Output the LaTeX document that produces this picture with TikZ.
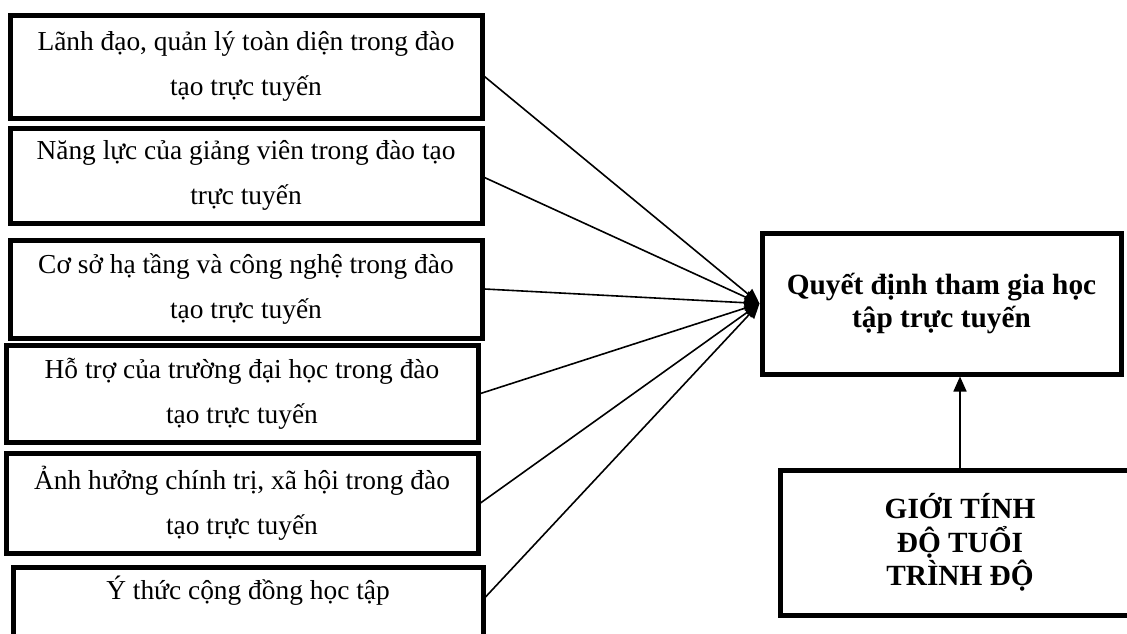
\documentclass[tikz,border=0pt]{standalone}
\usepackage{fontspec}
\setmainfont{Liberation Serif}
\usetikzlibrary{arrows.meta}
\begin{document}
\begin{tikzpicture}[x=1pt,y=-1pt,
  lbox/.style={draw,line width=5pt,minimum width=472pt,align=center,inner sep=0pt,
    font=\fontsize{27.4}{45}\selectfont},
  rbox/.style={draw,line width=5pt,align=center,inner sep=0pt,
    font=\fontsize{29.3}{33.5}\selectfont\bfseries},
  conn/.style={line width=1.6pt,-{Triangle[length=15pt,width=13pt]}}]
\useasboundingbox (0,0) rectangle (1127,633);
\clip (0,0) rectangle (1127,633);
\node[lbox,minimum height=103pt] (b1) at (246,66.5) {Lãnh đạo, quản lý toàn diện trong đào\\tạo trực tuyến};
\node[lbox,minimum height=95pt] (b2) at (246,175.5) {Năng lực của giảng viên trong đào tạo\\trực tuyến};
\node[lbox,minimum height=98pt] (b3) at (246,289) {Cơ sở hạ tầng và công nghệ trong đào\\tạo trực tuyến};
\node[lbox,minimum height=97pt] (b4) at (242,393.5) {Hỗ trợ của trường đại học trong đào\\tạo trực tuyến};
\node[lbox,minimum height=100pt] (b5) at (242,503) {Ảnh hưởng chính trị, xã hội trong đào\\tạo trực tuyến};
\node[lbox,minimum width=470pt,minimum height=100pt] (b6) at (248,617) {Ý thức cộng đồng học tập\\\strut};
\node[rbox,minimum width=359pt,minimum height=141pt] (q) at (941.5,303.5) {Quyết định tham gia học\\tập trực tuyến};
\node[rbox,minimum width=360pt,minimum height=145pt] (g) at (960,542.5) {GIỚI TÍNH\\ĐỘ TUỔI\\TRÌNH ĐỘ};
\draw[conn] ([yshift=-10pt]b1.east) -- (q.west);
\draw[conn] ([yshift=-2pt]b2.east) -- (q.west);
\draw[conn] (b3.east) -- (q.west);
\draw[conn] (b4.east) -- (q.west);
\draw[conn] (b5.east) -- (q.west);
\draw[conn] ([yshift=20pt]b6.east) -- (q.west);
\draw[conn] (g.north) -- (g.north |- q.south);
\end{tikzpicture}
\end{document}
